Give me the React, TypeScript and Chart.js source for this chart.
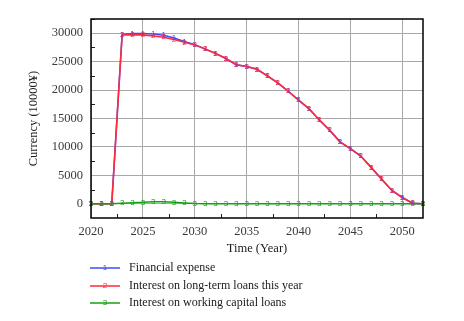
import React, { useEffect, useRef } from "react";
import { Chart, registerables } from "chart.js";
Chart.register(...registerables);

const years = [2020, 2021, 2022, 2023, 2024, 2025, 2026, 2027, 2028, 2029, 2030, 2031, 2032, 2033, 2034, 2035, 2036, 2037, 2038, 2039, 2040, 2041, 2042, 2043, 2044, 2045, 2046, 2047, 2048, 2049, 2050, 2051, 2052];
const financialExpense = [0, 0, 0, 29800, 29950, 29950, 29850, 29650, 29150, 28550, 28000, 27250, 26450, 25550, 24450, 24150, 23650, 22500, 21250, 19800, 18250, 16750, 14750, 12950, 10900, 9700, 8400, 6400, 4350, 2350, 1100, 100, 0];
const longTermInterest = [0, 0, 0, 29700, 29750, 29700, 29500, 29300, 28900, 28400, 27950, 27200, 26450, 25550, 24450, 24150, 23650, 22500, 21250, 19800, 18250, 16750, 14750, 12950, 10900, 9700, 8400, 6400, 4350, 2350, 1100, 100, 0];
const workingCapitalInterest = [0, 0, 0, 100, 200, 250, 350, 350, 250, 150, 50, 0, 0, 0, 0, 0, 0, 0, 0, 0, 0, 0, 0, 0, 0, 0, 0, 0, 0, 0, 0, 0, 0];
const seriesNames = ["Financial expense", "Interest on long-term loans this year", "Interest on working capital loans"];
const seriesColors = ["#3a4dff", "#ff2a3a", "#14a014"];
const seriesMarkers = ["1", "2", "3"];
const xTicks = [2020, 2025, 2030, 2035, 2040, 2045, 2050];
const xMinorTicks = [2022.5, 2027.5, 2032.5, 2037.5, 2042.5, 2047.5];
const yTicks = [0, 5000, 10000, 15000, 20000, 25000, 30000];
const yMinorTicks = [-2500, 2500, 7500, 12500, 17500, 22500, 27500, 32500];

const SERIF = "'Liberation Serif', 'DejaVu Serif', serif";

const decorPlugin = {
  id: "decor",
  afterDatasetsDraw(chart: any) {
    const ctx = chart.ctx;
    const { left, right, top, bottom } = chart.chartArea;
    const xs = chart.scales.x;
    const ys = chart.scales.y;
    ctx.save();
    ctx.font = "8px 'Liberation Sans', sans-serif";
    ctx.textAlign = "center";
    ctx.textBaseline = "middle";
    [0, 1, 2].forEach((di) => {
      const meta = chart.getDatasetMeta(di);
      ctx.fillStyle = seriesColors[di];
      meta.data.forEach((pt: any) => {
        if (pt.x >= left - 1 && pt.x <= right + 1) ctx.fillText(seriesMarkers[di], pt.x, pt.y);
      });
    });
    ctx.strokeStyle = "#222";
    ctx.lineWidth = 1;
    ctx.beginPath();
    xMinorTicks.forEach((v) => {
      const px = Math.round(xs.getPixelForValue(v)) + 0.5;
      ctx.moveTo(px, bottom);
      ctx.lineTo(px, bottom - 4);
    });
    yMinorTicks.forEach((v) => {
      const py = Math.round(ys.getPixelForValue(v)) + 0.5;
      if (py > top && py < bottom) {
        ctx.moveTo(left, py);
        ctx.lineTo(left + 4, py);
      }
    });
    ctx.stroke();
    ctx.strokeStyle = "#000";
    ctx.lineWidth = 1.5;
    ctx.strokeRect(left, top, right - left, bottom - top);
    ctx.restore();
  },
  afterDraw(chart: any) {
    const ctx = chart.ctx;
    ctx.save();
    const x0 = 90;
    const x1 = 120;
    const rows = [268, 286, 303];
    seriesNames.forEach((name, i) => {
      const y = rows[i];
      ctx.strokeStyle = seriesColors[i];
      ctx.lineWidth = 1.5;
      ctx.beginPath();
      ctx.moveTo(x0, y);
      ctx.lineTo(x1, y);
      ctx.stroke();
      ctx.fillStyle = seriesColors[i];
      ctx.font = "8px 'Liberation Sans', sans-serif";
      ctx.textAlign = "center";
      ctx.textBaseline = "middle";
      ctx.fillText(seriesMarkers[i], (x0 + x1) / 2, y);
      ctx.fillStyle = "#1a1a1a";
      ctx.font = "12px " + SERIF;
      ctx.textAlign = "left";
      ctx.fillText(name, 129, y);
    });
    ctx.restore();
  },
};

export default function App() {
  const ref = useRef<HTMLCanvasElement>(null);
  useEffect(() => {
    if (!ref.current) return;
    const mk = (arr: number[]) => years.map((yr, i) => ({ x: yr, y: arr[i] }));
    const chart = new Chart(ref.current, {
      type: "line",
      data: {
        datasets: [
          { label: seriesNames[0], data: mk(financialExpense), borderColor: seriesColors[0], borderWidth: 1.5, pointRadius: 0, order: 2 },
          { label: seriesNames[1], data: mk(longTermInterest), borderColor: seriesColors[1], borderWidth: 1.6, pointRadius: 0, order: 1 },
          { label: seriesNames[2], data: mk(workingCapitalInterest), borderColor: seriesColors[2], borderWidth: 1.5, pointRadius: 0, order: 0 },
        ],
      },
      options: {
        animation: false,
        responsive: false,
        layout: { padding: { left: 0, top: 19, right: 41, bottom: 65 } },
        plugins: { legend: { display: false }, tooltip: { enabled: false } },
        scales: {
          x: {
            type: "linear",
            min: 2020,
            max: 2052,
            afterBuildTicks: (s: any) => { s.ticks = xTicks.map((v) => ({ value: v })); },
            afterFit: (s: any) => { s.height = 38; },
            grid: { color: "#a8a8a8", lineWidth: 1, drawTicks: false },
            border: { display: false },
            ticks: { padding: 6, color: "#3a3a3a", font: { family: SERIF, size: 12.5 }, maxRotation: 0, callback: (v: any) => String(v) },
            title: { display: true, text: "Time (Year)", color: "#1a1a1a", font: { family: SERIF, size: 12.5 }, padding: { top: 0, bottom: 0 } },
          },
          y: {
            type: "linear",
            min: -2500,
            max: 32500,
            afterBuildTicks: (s: any) => { s.ticks = yTicks.map((v) => ({ value: v })); },
            afterFit: (s: any) => { s.width = 91; },
            grid: { color: "#a8a8a8", lineWidth: 1, drawTicks: false },
            border: { display: false },
            ticks: { padding: 8, color: "#3a3a3a", font: { family: SERIF, size: 12.5 }, callback: (v: any) => String(v) },
            title: { display: true, text: "Currency (10000¥)", color: "#1a1a1a", font: { family: SERIF, size: 12.5 }, padding: { top: 26, bottom: 0 } },
          },
        },
      },
      plugins: [decorPlugin],
    } as any);
    return () => chart.destroy();
  }, []);
  return (
    <div style={{ position: "absolute", left: 0, top: 0, width: 464, height: 321, background: "#fff" }}>
      <canvas ref={ref} width={464} height={321} />
    </div>
  );
}
